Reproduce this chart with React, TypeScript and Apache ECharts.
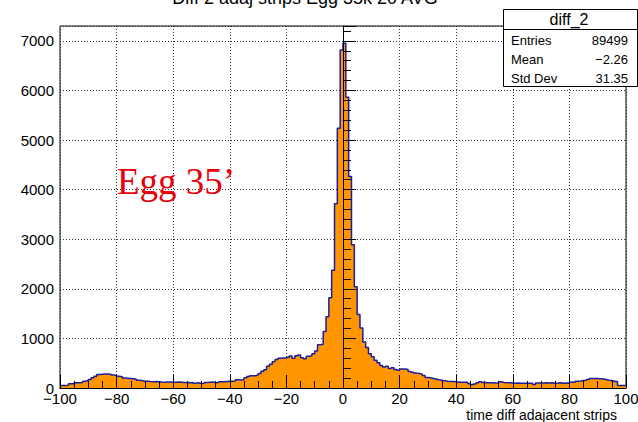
import React, { useEffect, useRef } from "react";
import * as echarts from "echarts";

const titleText = "Diff 2 adaj strips Egg 35k 20 AVG";
const xAxisName = "time diff adajacent strips";
const annotation = "Egg 35\u2019";
const statsTitle = "diff_2";
const statsLabels = ["Entries", "Mean", "Std Dev"];
const statsValues = ["89499", "\u22122.26", "31.35"];

const xMin = -100;
const xMax = 100;
const binWidth = 1;

// counts per bin, bins from -100 to 100 in steps of 1
const counts = [
  // -100 .. -81
  50, 50, 55, 85, 85, 105, 105, 110, 137, 150, 171, 205, 237, 270, 278, 280, 280, 278, 263, 255,
  // -80 .. -61
  237, 225, 200, 195, 190, 185, 175, 157, 150, 137, 135, 130, 128, 130, 125, 120, 118, 122, 120, 115,
  // -60 .. -41
  118, 120, 115, 110, 112, 108, 110, 95, 105, 92, 95, 112, 118, 122, 108, 110, 125, 128, 132, 135,
  // -40 .. -21
  138, 142, 165, 162, 165, 205, 230, 245, 248, 260, 290, 340, 370, 440, 478, 530, 575, 600, 605, 603,
  // -20 .. -1
  620, 645, 600, 650, 665, 612, 590, 640, 648, 690, 745, 870, 880, 1140, 1436, 1819, 2374, 3716, 5240, 6815,
  // 0 .. 19
  6950, 5863, 4266, 2891, 2040, 1480, 1212, 928, 818, 690, 630, 560, 510, 455, 425, 440, 395, 410, 375, 360,
  // 20 .. 39
  385, 385, 372, 335, 318, 300, 292, 280, 250, 210, 205, 191, 178, 165, 158, 144, 137, 131, 131, 124,
  // 40 .. 59
  117, 117, 117, 117, 90, 64, 80, 104, 125, 110, 105, 105, 105, 102, 105, 125, 111, 105, 105, 103,
  // 60 .. 79
  98, 100, 98, 98, 98, 98, 95, 70, 100, 102, 100, 104, 100, 104, 98, 100, 105, 98, 100, 95,
  // 80 .. 99
  115, 118, 138, 140, 151, 155, 171, 191, 192, 190, 188, 182, 170, 158, 150, 138, 125, 50, 50, 50,
];

const yMax = 7300;
const yInterval = 1000;
const xInterval = 20;

const FILL = "#ff9600";
const LINE = "#1c1ca0";
const SANS = "'Liberation Sans', Arial, Helvetica, sans-serif";
const SERIF = "'Liberation Serif', 'Times New Roman', serif";

export default function App() {
  const ref = useRef<HTMLDivElement>(null);
  useEffect(() => {
    if (!ref.current) return;
    const chart = echarts.init(ref.current, null, { renderer: "svg" });

    const stepData: number[][] = counts.map((c, i) => [xMin + i * binWidth, c]);
    stepData.push([xMax, counts[counts.length - 1]]);

    const grid = {
      left: 60, right: 12, top: 26, bottom: 34, show: true, borderColor: "#000", borderWidth: 1,
      backgroundColor: "transparent", containLabel: false, outerBoundsMode: "none",
    };

    const gridLineStyle = { color: "#333", width: 1, type: [1, 2] as any };

    const boxL = 503, boxT = 9, boxR = 637, boxB = 86;

    chart.setOption({
      animation: false,
      backgroundColor: "#fff",
      grid,
      xAxis: [
        {
          type: "value", min: xMin, max: xMax, interval: xInterval, z: 0,
          axisLine: { show: false }, axisTick: { show: false }, axisLabel: { show: false },
          splitLine: { show: true, lineStyle: gridLineStyle },
        },
        {
          type: "value", min: xMin, max: xMax, interval: xInterval, position: "bottom", z: 10,
          axisLine: { show: true, lineStyle: { color: "#000", width: 1 } },
          axisTick: { show: true, inside: true, length: 13, lineStyle: { color: "#000", width: 1 } },
          minorTick: { show: true, splitNumber: 4, length: 7, lineStyle: { color: "#000", width: 1 } },
          axisLabel: {
            show: true, margin: 3, color: "#000", fontSize: 15, lineHeight: 15, fontFamily: SANS,
            formatter: (v: number) => (v < 0 ? "\u2212" + Math.abs(v) : String(v)),
          },
          splitLine: { show: false },
        },
      ],
      yAxis: [
        {
          type: "value", min: 0, max: yMax, interval: yInterval, z: 0,
          axisLine: { show: false }, axisTick: { show: false }, axisLabel: { show: false },
          splitLine: { show: true, lineStyle: gridLineStyle },
        },
        {
          type: "value", min: 0, max: yMax, interval: yInterval, position: "left", z: 10,
          axisLine: { show: true, lineStyle: { color: "#000", width: 1 } },
          axisTick: { show: true, inside: true, length: 13, lineStyle: { color: "#000", width: 1 } },
          minorTick: { show: true, splitNumber: 5, length: 8, lineStyle: { color: "#000", width: 1 } },
          axisLabel: {
            show: true, margin: 6, color: "#000", fontSize: 15, fontFamily: SANS, showMaxLabel: false,
            formatter: (v: number) => String(v),
          },
          splitLine: { show: false },
        },
      ],
      series: [
        {
          type: "line",
          xAxisIndex: 0,
          yAxisIndex: 0,
          step: "end",
          symbol: "none",
          data: stepData,
          z: 2,
          lineStyle: { color: LINE, width: 1.5 },
          areaStyle: { color: FILL, opacity: 1 },
        },
      ],
      graphic: [
        {
          type: "text", x: 305, y: -2, z: 20,
          style: { text: titleText, font: `18px ${SANS}`, fill: "#000", textAlign: "center", textVerticalAlign: "middle" },
        },
        {
          type: "text", x: 617, y: 415, z: 20,
          style: { text: xAxisName, font: `14px ${SANS}`, fill: "#000", textAlign: "right", textVerticalAlign: "middle" },
        },
        {
          type: "text", x: 117, y: 163, z: 20,
          style: { text: annotation, font: `37px ${SERIF}`, fill: "#e8000b", textAlign: "left", textVerticalAlign: "top" },
        },
        {
          type: "rect", z: 20,
          shape: { x: boxL + 0.5, y: boxT + 0.5, width: boxR - boxL, height: boxB - boxT },
          style: { fill: "#fff", stroke: "#000", lineWidth: 1 },
        },
        {
          type: "line", z: 21,
          shape: { x1: boxL, y1: 29.5, x2: boxR + 1, y2: 29.5 },
          style: { stroke: "#000", lineWidth: 1 },
        },
        {
          type: "text", x: 569, y: 19, z: 21,
          style: { text: statsTitle, font: `16px ${SANS}`, fill: "#000", textAlign: "center", textVerticalAlign: "middle" },
        },
        ...statsLabels.map((t, i) => ({
          type: "text", x: 511, y: 40 + i * 19, z: 21,
          style: { text: t, font: `13px ${SANS}`, fill: "#000", textAlign: "left", textVerticalAlign: "middle" },
        })),
        ...statsValues.map((t, i) => ({
          type: "text", x: 628, y: 40 + i * 19, z: 21,
          style: { text: t, font: `13px ${SANS}`, fill: "#000", textAlign: "right", textVerticalAlign: "middle" },
        })),
      ],
    });
    return () => chart.dispose();
  }, []);
  return <div ref={ref} style={{ position: "absolute", left: 0, top: 0, width: 638, height: 422 }} />;
}
